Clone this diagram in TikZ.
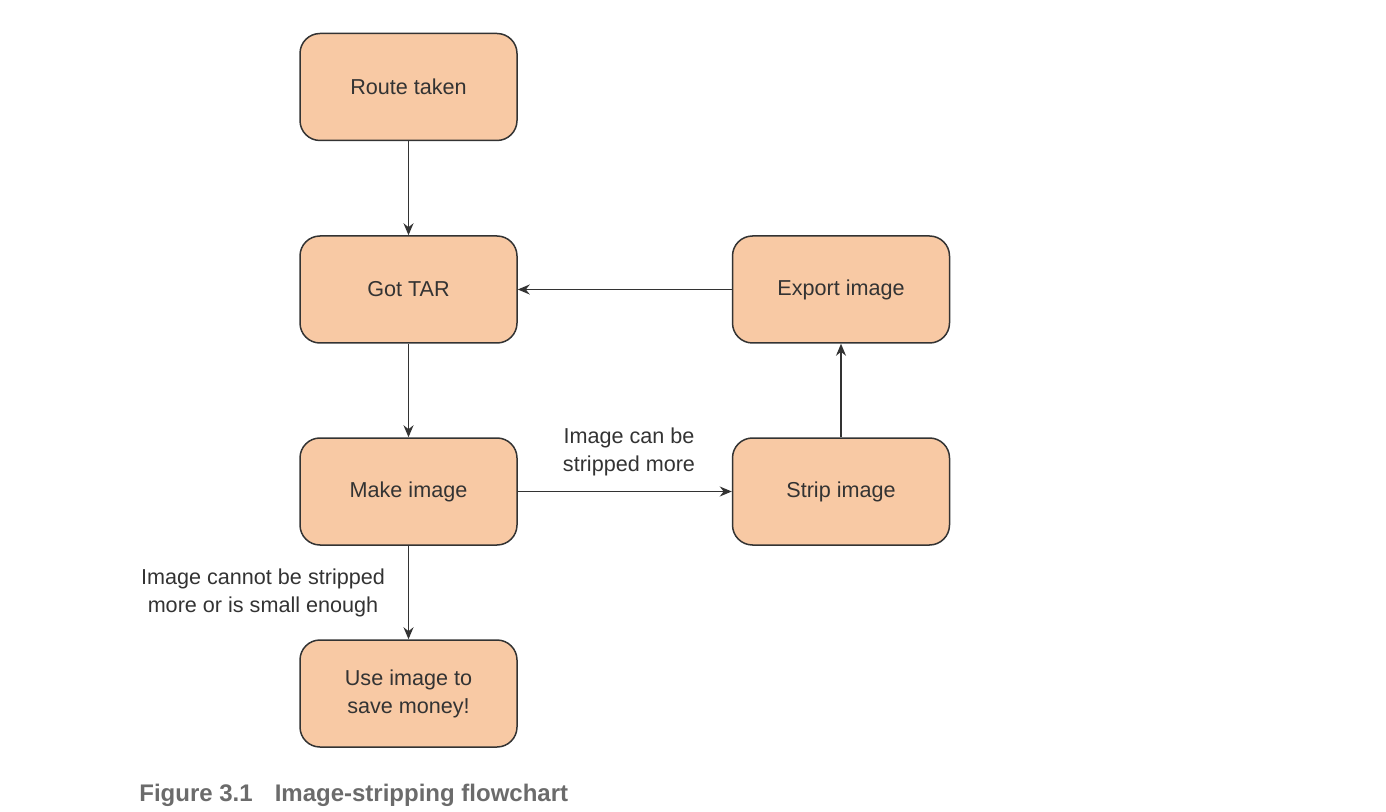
\documentclass[tikz,border=0pt]{standalone}
\usepackage{fontspec}
\setmainfont{Liberation Sans}
\usetikzlibrary{arrows.meta}
\definecolor{boxfill}{HTML}{F8C9A4}
\definecolor{ink}{HTML}{333333}
\definecolor{capgray}{HTML}{6B6B6B}
\tikzset{
  flowbox/.style={draw=ink, fill=boxfill, line width=0.75pt, rounded corners=10pt,
    minimum width=108.5pt, minimum height=53.5pt, text=ink, font=\fontsize{10.8}{14}\selectfont, align=center, inner sep=0pt},
  conn/.style={draw=ink, line width=0.6pt, -{Stealth[length=6pt,width=5pt]}},
  lbl/.style={text=ink, font=\fontsize{10.8}{14}\selectfont, align=center, inner sep=0pt}
}
\begin{document}
\begin{tikzpicture}[x=0.5pt,y=-0.5pt]
\useasboundingbox (0,0) rectangle (1386,812);
\node[flowbox] (route) at (408.5,87) {Route taken};
\node[flowbox] (tar) at (408.5,289.5) {Got TAR};
\node[flowbox] (make) at (408.5,491.5) {Make image};
\node[flowbox] (use) at (408.5,693.5) {Use image to\\save money!};
\node[flowbox] (export) at (841,289.5) {Export image};
\node[flowbox] (strip) at (841,491.5) {Strip image};
\draw[conn] (route) -- (tar);
\draw[conn] (tar) -- (make);
\draw[conn] (make) -- (use);
\draw[conn] (make) -- (strip);
\draw[conn] (strip) -- (export);
\draw[conn] (export) -- (tar);
\node[lbl] (lblmore) at (629,452) {Image can be\\stripped more};
\node[lbl] (lblno) at (263,593) {Image cannot be stripped\\more or is small enough};
\node[anchor=base west, inner sep=0pt, text=capgray, font=\bfseries\fontsize{12}{14}\selectfont] (cap) at (139,801) {Figure 3.1\hspace{11pt}Image-stripping flowchart};
\end{tikzpicture}
\end{document}
